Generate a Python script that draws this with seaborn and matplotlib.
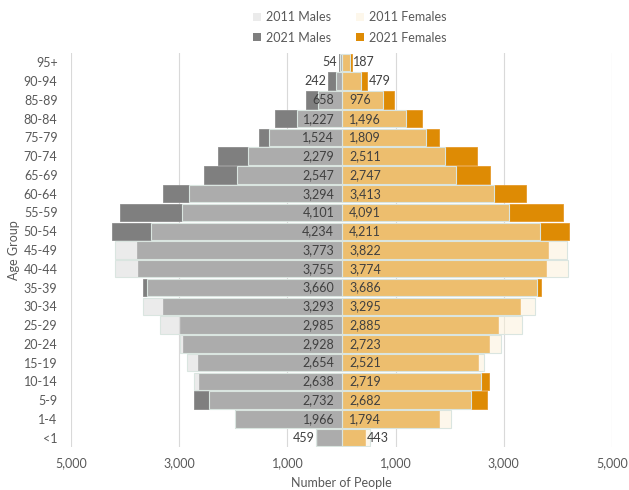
import numpy as np
import pandas as pd
import matplotlib
matplotlib.use("Agg")
import matplotlib.pyplot as plt
import seaborn as sns
from matplotlib.patches import Patch
from matplotlib.colors import to_rgba
from matplotlib.ticker import FuncFormatter

plt.rcParams["font.family"] = ["Lato", "DejaVu Sans"]

# Population by five-year age band, top of the pyramid first
age_groups = ["95+", "90-94", "85-89", "80-84", "75-79", "70-74", "65-69",
              "60-64", "55-59", "50-54", "45-49", "40-44", "35-39", "30-34",
              "25-29", "20-24", "15-19", "10-14", "5-9", "1-4", "<1"]

males_2021 = [54, 242, 658, 1227, 1524, 2279, 2547, 3294, 4101, 4234, 3773,
              3755, 3660, 3293, 2985, 2928, 2654, 2638, 2732, 1966, 459]
females_2021 = [187, 479, 976, 1496, 1809, 2511, 2747, 3413, 4091, 4211, 3822,
                3774, 3686, 3295, 2885, 2723, 2521, 2719, 2682, 1794, 443]
males_2011 = [35, 100, 435, 817, 1334, 1721, 1924, 2823, 2952, 3530, 4188,
              4190, 3603, 3672, 3358, 2989, 2865, 2731, 2454, 1970, 465]
females_2011 = [155, 369, 775, 1188, 1557, 1908, 2110, 2817, 3088, 3666, 4170,
                4183, 3611, 3568, 3340, 2941, 2633, 2572, 2387, 2030, 520]

series_labels = ["2011 Males", "2021 Males", "2011 Females", "2021 Females"]

MALE_2021 = "#7f7f7f"
FEMALE_2021 = "#de8b04"
MALE_2011 = "#d9d9d9"
FEMALE_2011 = "#fcf1d8"
OVERLAY_ALPHA = 0.5
OVERLAY_EDGE = "#dae5e0"
TEXT = "#595959"
LABEL_TEXT = "#404040"

df = pd.DataFrame({
    "age": age_groups,
    "m2021": -np.array(males_2021),
    "f2021": np.array(females_2021),
    "m2011": -np.array(males_2011),
    "f2011": np.array(females_2011),
})

fig = plt.figure(figsize=(6.29, 4.90), dpi=100)
ax = fig.add_axes([71 / 629, 43 / 490, 541 / 629, 394 / 490])

common = dict(y="age", orient="h", order=age_groups, saturation=1,
              width=0.93, errorbar=None, ax=ax)
sns.barplot(data=df, x="m2021", color=MALE_2021, edgecolor="#8c8c8c",
            linewidth=0.6, **common)
sns.barplot(data=df, x="f2021", color=FEMALE_2021, edgecolor="#e59a2a",
            linewidth=0.6, **common)
sns.barplot(data=df, x="m2011", color=MALE_2011, **common)
sns.barplot(data=df, x="f2011", color=FEMALE_2011, **common)

# 2011 bars sit over 2021 as a translucent layer
for container in ax.containers[2:]:
    for p in container:
        fc = p.get_facecolor()
        p.set_facecolor(to_rgba(fc[:3], OVERLAY_ALPHA))
        p.set_edgecolor(OVERLAY_EDGE)
        p.set_linewidth(0.8)

# 2021 value labels: at the base when they fit, else just past the bar end
for p, v in zip(ax.containers[0], males_2021):
    yc = p.get_y() + p.get_height() / 2
    if v < 550:
        ax.annotate(f"{v:,}", xy=(-v, yc), xytext=(-1.5, 0),
                    textcoords="offset points", ha="right", va="center",
                    fontsize=9, color=LABEL_TEXT, zorder=5)
    else:
        ax.annotate(f"{v:,}", xy=(0, yc), xytext=(-5.2, 0),
                    textcoords="offset points", ha="right", va="center",
                    fontsize=9, color=LABEL_TEXT, zorder=5)
for p, v in zip(ax.containers[1], females_2021):
    yc = p.get_y() + p.get_height() / 2
    if v < 550:
        ax.annotate(f"{v:,}", xy=(v, yc), xytext=(1.0, 0),
                    textcoords="offset points", ha="left", va="center",
                    fontsize=9, color=LABEL_TEXT, zorder=5)
    else:
        ax.annotate(f"{v:,}", xy=(0, yc), xytext=(5.5, 0),
                    textcoords="offset points", ha="left", va="center",
                    fontsize=9, color=LABEL_TEXT, zorder=5)

ax.set_xlim(-5000, 5000)
ax.set_xticks(np.arange(-5000, 5001, 2000))
ax.xaxis.set_major_formatter(FuncFormatter(lambda v, _: f"{abs(v):,.0f}"))
ax.set_axisbelow(True)
ax.grid(axis="x", color="#d9d9d9", linewidth=0.8)
ax.grid(axis="y", visible=False)
for s in ax.spines.values():
    s.set_visible(False)
ax.tick_params(axis="both", length=0, labelsize=9, labelcolor=TEXT)
ax.tick_params(axis="y", pad=9.7)
ax.tick_params(axis="x", pad=7)

ax.set_xlabel("Number of People", fontsize=9, color=TEXT, va="center")
ax.set_ylabel("Age Group", fontsize=9, color=TEXT, va="center")
ax.xaxis.set_label_coords(0.5, (447 - 483) / 394)
ax.yaxis.set_label_coords((14 - 71) / 541, 0.5)

handles = [
    Patch(facecolor=to_rgba(MALE_2011, OVERLAY_ALPHA), edgecolor="none"),
    Patch(facecolor=MALE_2021, edgecolor="none"),
    Patch(facecolor=to_rgba(FEMALE_2011, OVERLAY_ALPHA), edgecolor="none"),
    Patch(facecolor=FEMALE_2021, edgecolor="none"),
]
fig.legend(handles, series_labels, ncol=2, loc="center",
           bbox_to_anchor=(350 / 629, 1 - 27.5 / 490), frameon=False,
           fontsize=9, labelcolor=TEXT, handlelength=0.6, handleheight=0.6,
           handletextpad=0.45, columnspacing=2.0, labelspacing=0.7)

fig.savefig("out.png", dpi=100)
